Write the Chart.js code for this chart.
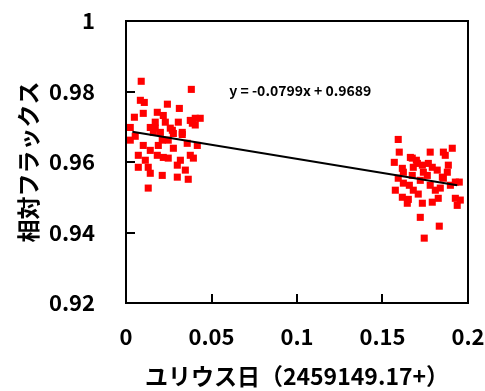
<!DOCTYPE html>
<html>
<head>
<meta charset="utf-8">
<script src="https://cdn.jsdelivr.net/npm/chart.js@4.4.0/dist/chart.umd.min.js"></script>
<style>
body { margin: 0; background: #fff; }
</style>
</head>
<body>
<canvas id="lightCurve" width="485" height="391"></canvas>
<script>
// 前半の観測 (ユリウス日オフセット / 相対フラックス)
const jdEarly = [0.0089, 0.0382, 0.0084, 0.0107, 0.0242, 0.0312, 0.0183, 0.0101, 0.0049, 0.0218,
  0.0376, 0.0405, 0.0388, 0.0171, 0.0142, 0.0259, 0.0329, 0.0054, 0.0201, 0.0160,
  0.0277, 0.0212, 0.0101, 0.0358, 0.0417, 0.0277, 0.0142, 0.0183, 0.0218, 0.0247,
  0.0072, 0.0376, 0.0318, 0.0394, 0.0072, 0.0130, 0.0300, 0.0142, 0.0212, 0.0300,
  0.0364, 0.0130, 0.0171, 0.0271, 0.0329, 0.0405, 0.0025, 0.0306, 0.0230, 0.0113,
  0.0347, 0.0189, 0.0025, 0.0434, 0.0247];
const fluxEarly = [0.9829, 0.9806, 0.9775, 0.9769, 0.9764, 0.9752, 0.9741, 0.9738, 0.9727, 0.9732,
  0.9718, 0.9724, 0.9710, 0.9713, 0.9698, 0.9696, 0.9684, 0.9673, 0.9684, 0.9684,
  0.9681, 0.9662, 0.9647, 0.9653, 0.9647, 0.9639, 0.9633, 0.9619, 0.9613, 0.9611,
  0.9619, 0.9619, 0.9605, 0.9611, 0.9585, 0.9585, 0.9591, 0.9568, 0.9562, 0.9557,
  0.9551, 0.9526, 0.9696, 0.9690, 0.9678, 0.9705, 0.9662, 0.9713, 0.9713, 0.9605,
  0.9577, 0.9647, 0.9698, 0.9724, 0.9662];
// 後半の観測
const jdLate = [0.1592, 0.1598, 0.1569, 0.1663, 0.1698, 0.1704, 0.1779, 0.1856, 0.1908, 0.1768,
  0.1791, 0.1616, 0.1622, 0.1739, 0.1820, 0.1879, 0.1674, 0.1762, 0.1856, 0.1926,
  0.1949, 0.1622, 0.1575, 0.1680, 0.1809, 0.1838, 0.1616, 0.1651, 0.1645, 0.1733,
  0.1791, 0.1826, 0.1926, 0.1937, 0.1721, 0.1832, 0.1744, 0.1680, 0.1733, 0.1850,
  0.1674, 0.1867, 0.1721, 0.1592, 0.1897, 0.1779, 0.1657, 0.1709, 0.1885, 0.1955];
const fluxLate = [0.9664, 0.9628, 0.9599, 0.9613, 0.9605, 0.9596, 0.9628, 0.9628, 0.9639, 0.9596,
  0.9585, 0.9582, 0.9571, 0.9571, 0.9577, 0.9571, 0.9562, 0.9562, 0.9554, 0.9543,
  0.9543, 0.9540, 0.9520, 0.9520, 0.9520, 0.9526, 0.9500, 0.9494, 0.9483, 0.9483,
  0.9486, 0.9497, 0.9497, 0.9477, 0.9443, 0.9418, 0.9384, 0.9585, 0.9591, 0.9557,
  0.9611, 0.9619, 0.9548, 0.9554, 0.9534, 0.9534, 0.9534, 0.9509, 0.9591, 0.9492];
// 目盛
const xTickValues = [0.05, 0.1, 0.15];
const yTickValues = [0.94, 0.96, 0.98];
// 近似直線
const slope = -0.0799;
const intercept = 0.9689;
const fitRange = [0.0037, 0.1937];
const fitLabel = 'y = -0.0799x + 0.9689';

const jpFont = '"Noto Sans CJK JP", "Noto Sans", sans-serif';

const points = [];
jdEarly.forEach((x, i) => points.push({ x: x, y: fluxEarly[i] }));
jdLate.forEach((x, i) => points.push({ x: x, y: fluxLate[i] }));
const fitLine = fitRange.map(x => ({ x: x, y: slope * x + intercept }));

const shortNum = v => String(+Number(v).toFixed(2));

// 枠線・内向きの目盛・近似式
const framePlugin = {
  id: 'frame',
  afterDatasetsDraw(chart) {
    const c = chart.ctx;
    const a = chart.chartArea;
    const sx = chart.scales.x;
    const sy = chart.scales.y;
    c.save();
    c.strokeStyle = '#000';
    c.lineWidth = 2;
    c.strokeRect(a.left, a.top, a.right - a.left, a.bottom - a.top);
    xTickValues.forEach(v => {
      const px = Math.round(sx.getPixelForValue(v));
      c.beginPath();
      c.moveTo(px, a.bottom);
      c.lineTo(px, a.bottom - 9);
      c.stroke();
    });
    yTickValues.forEach(v => {
      const py = Math.round(sy.getPixelForValue(v));
      c.beginPath();
      c.moveTo(a.left, py);
      c.lineTo(a.left + 9, py);
      c.stroke();
    });
    c.fillStyle = '#000';
    c.font = 'bold 14px ' + jpFont;
    c.textBaseline = 'middle';
    c.fillText(fitLabel, sx.getPixelForValue(0.0604), sy.getPixelForValue(0.9803));
    c.restore();
  }
};

const ctx = document.getElementById('lightCurve').getContext('2d');
const chart = new Chart(ctx, {
  type: 'scatter',
  data: {
    datasets: [{
      data: points,
      backgroundColor: '#ff0000',
      borderColor: '#ff0000',
      borderWidth: 0,
      pointStyle: 'rect',
      pointRadius: 5,
      order: 2
    }, {
      type: 'line',
      data: fitLine,
      borderColor: '#000',
      borderWidth: 2,
      pointRadius: 0,
      fill: false,
      order: 1
    }]
  },
  options: {
    responsive: false,
    animation: false,
    devicePixelRatio: 1,
    layout: { padding: { left: 0, top: 21, right: 17, bottom: 0 } },
    plugins: { legend: { display: false }, tooltip: { enabled: false } },
    scales: {
      x: {
        type: 'linear',
        min: 0,
        max: 0.2,
        border: { display: false },
        grid: { display: false },
        ticks: { stepSize: 0.05, color: '#000', padding: 12, callback: shortNum,
          font: { family: jpFont, size: 22, weight: 'bold' } },
        title: {
          display: true,
          text: 'ユリウス日（2459149.17+）',
          color: '#000',
          padding: { top: 0, bottom: 1 },
          font: { family: jpFont, size: 23, weight: 'bold' }
        },
        afterFit(scale) { scale.height = 88; scale.paddingLeft = 0; scale.paddingRight = 0; }
      },
      y: {
        type: 'linear',
        min: 0.92,
        max: 1,
        border: { display: false },
        grid: { display: false },
        ticks: { stepSize: 0.02, color: '#000', padding: 23, callback: shortNum,
          font: { family: jpFont, size: 22, weight: 'bold' } },
        title: {
          display: true,
          text: '相対フラックス',
          color: '#000',
          padding: { top: 14, bottom: 0 },
          font: { family: jpFont, size: 23, weight: 'bold' }
        },
        afterFit(scale) { scale.width = 126; scale.paddingTop = 0; scale.paddingBottom = 0; }
      }
    }
  },
  plugins: [framePlugin]
});
</script>
</body>
</html>
